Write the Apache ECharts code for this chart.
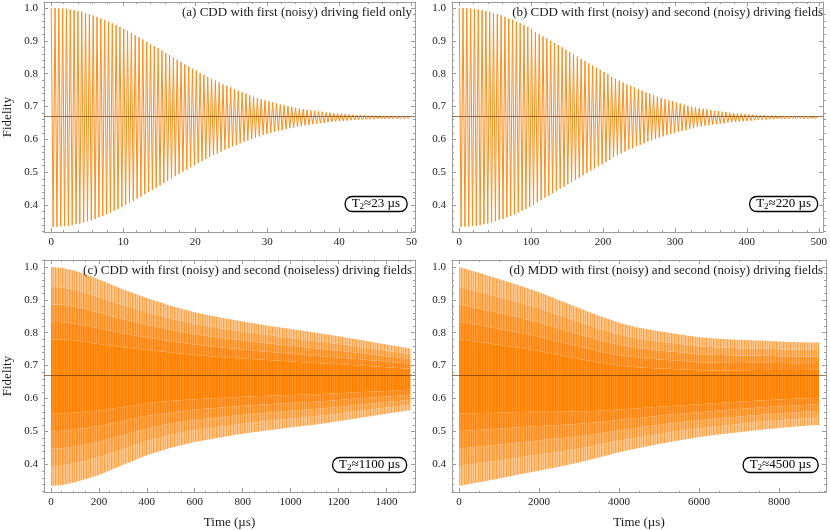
<!DOCTYPE html>
<html><head><meta charset="utf-8">
<script src="https://cdn.jsdelivr.net/npm/echarts@6/dist/echarts.min.js"></script>
<style>html,body{margin:0;padding:0;background:#fff}#c{width:830px;height:530px}</style>
</head><body><div id="c"></div>
<script>
// ---------------- DATA ----------------
// (a) successive peak / trough values of the fidelity, one every half period
const halfPeriodA = 0.265; // µs
const fidelityA = [
1.000,0.333,1.000,0.334,0.999,0.335,0.998,0.336,0.997,0.337,
0.995,0.339,0.993,0.342,0.990,0.344,0.988,0.347,0.984,0.351,
0.981,0.354,0.977,0.358,0.973,0.363,0.968,0.367,0.964,0.372,
0.958,0.377,0.953,0.383,0.948,0.388,0.942,0.394,0.936,0.400,
0.930,0.407,0.924,0.413,0.917,0.420,0.911,0.426,0.904,0.433,
0.897,0.440,0.890,0.446,0.883,0.453,0.877,0.460,0.870,0.467,
0.863,0.474,0.856,0.481,0.849,0.488,0.842,0.495,0.835,0.502,
0.828,0.508,0.822,0.515,0.815,0.521,0.809,0.528,0.802,0.534,
0.796,0.540,0.790,0.546,0.784,0.552,0.779,0.557,0.773,0.563,
0.767,0.569,0.763,0.573,0.758,0.579,0.753,0.583,0.748,0.588,
0.743,0.593,0.739,0.597,0.734,0.601,0.730,0.605,0.726,0.609,
0.722,0.613,0.719,0.616,0.716,0.619,0.712,0.623,0.709,0.626,
0.706,0.628,0.704,0.631,0.701,0.634,0.699,0.636,0.696,0.638,
0.694,0.640,0.692,0.642,0.690,0.644,0.688,0.646,0.687,0.647,
0.685,0.649,0.684,0.650,0.682,0.652,0.681,0.653,0.680,0.654,
0.679,0.655,0.678,0.656,0.677,0.657,0.676,0.658,0.675,0.659,
0.674,0.659,0.674,0.660,0.673,0.661,0.672,0.661,0.672,0.661,
0.672,0.662,0.672,0.662,0.671,0.662,0.671,0.662,0.671,0.662,
0.671,0.662,0.671,0.662,0.671,0.663,0.671,0.663,0.671
];
// (b)
const halfPeriodB = 2.65; // µs
const fidelityB = [
1.000,0.333,1.000,0.334,0.999,0.335,0.998,0.336,0.997,0.337,
0.995,0.339,0.993,0.342,0.990,0.344,0.988,0.347,0.984,0.351,
0.981,0.354,0.977,0.358,0.973,0.363,0.968,0.367,0.964,0.372,
0.958,0.377,0.953,0.383,0.948,0.388,0.942,0.394,0.936,0.400,
0.926,0.409,0.920,0.416,0.913,0.422,0.907,0.429,0.900,0.436,
0.893,0.443,0.887,0.450,0.880,0.456,0.873,0.463,0.866,0.470,
0.859,0.477,0.852,0.484,0.845,0.491,0.838,0.498,0.831,0.505,
0.825,0.511,0.818,0.518,0.812,0.524,0.805,0.531,0.799,0.537,
0.790,0.546,0.784,0.552,0.779,0.557,0.773,0.563,0.767,0.569,
0.763,0.573,0.758,0.579,0.753,0.583,0.748,0.588,0.743,0.593,
0.739,0.597,0.734,0.601,0.730,0.605,0.726,0.609,0.722,0.613,
0.719,0.616,0.716,0.619,0.712,0.623,0.709,0.626,0.706,0.628,
0.702,0.632,0.699,0.634,0.697,0.637,0.695,0.639,0.693,0.641,
0.691,0.643,0.689,0.645,0.687,0.646,0.686,0.648,0.684,0.649,
0.683,0.651,0.681,0.652,0.680,0.653,0.679,0.654,0.678,0.655,
0.677,0.656,0.676,0.657,0.675,0.658,0.674,0.659,0.673,0.660,
0.673,0.660,0.672,0.661,0.672,0.661,0.672,0.662,0.671,0.662,
0.671,0.662,0.671,0.662,0.670,0.663,0.670,0.662,0.671,0.663,
0.670,0.662,0.671,0.663,0.670,0.663,0.671,0.662,0.670
];
// (c) envelope of the densely oscillating fidelity
const timeC  = [0,50,100,150,200,300,400,500,600,700,800,900,1000,1100,1200,1300,1400,1500];
const upperC = [1.000,0.997,0.988,0.976,0.962,0.932,0.905,0.882,0.862,0.847,0.834,0.822,0.811,0.800,0.789,0.777,0.764,0.752];
const lowerC = [0.333,0.336,0.345,0.355,0.367,0.397,0.427,0.450,0.467,0.480,0.492,0.502,0.511,0.520,0.530,0.542,0.553,0.564];
// (d)
const timeD  = [0,500,1000,1500,2000,2500,3000,3500,4000,4500,5000,5500,6000,6500,7000,7500,8000,8500,9000];
const upperD = [1.000,0.982,0.963,0.944,0.923,0.899,0.875,0.851,0.830,0.815,0.804,0.795,0.786,0.781,0.778,0.776,0.773,0.771,0.770];
const lowerD = [0.333,0.345,0.356,0.368,0.380,0.392,0.405,0.420,0.436,0.449,0.461,0.472,0.482,0.490,0.497,0.504,0.510,0.515,0.519];

const meanFidelity = 0.6667;
const panelTitles = [
  '(a) CDD with first (noisy) driving field only',
  '(b) CDD with first (noisy) and second (noisy) driving fields',
  '(c) CDD with first (noisy) and second (noiseless) driving fields',
  '(d) MDD with first (noisy) and second (noisy) driving fields'
];
const t2Values = ['23', '220', '1100', '4500'];
const xTicksA = [0,10,20,30,40,50];
const xTicksB = [0,100,200,300,400,500];
const xTicksC = [0,200,400,600,800,1000,1200,1400];
const xTicksD = [0,2000,4000,6000,8000];
const yTicks  = [0.4,0.5,0.6,0.7,0.8,0.9,1.0];
const yLabel = 'Fidelity';
const xLabel = 'Time (µs)';

// ---------------- LAYOUT / STYLE ----------------
const serif = "'Liberation Serif','DejaVu Serif',serif";
const frameColor = '#9c9c9c';
const textColor = '#1a1a1a';
const orange = '#ff8c1a';
const meanLineColor = 'rgba(100,50,10,0.65)';

const panels = [
  {left:42,  top:2,   width:373, height:230, xMin:-1,   xMax:50.5, xTicks:xTicksA, xMinor:2,   yMin:0.318, yMax:1.018, yName:true,  xName:false},
  {left:452, top:2,   width:374, height:230, xMin:-10,  xMax:506,  xTicks:xTicksB, xMinor:20,  yMin:0.318, yMax:1.018, yName:false, xName:false},
  {left:42,  top:260, width:373, height:233, xMin:-29,  xMax:1519, xTicks:xTicksC, xMinor:50,  yMin:0.315, yMax:1.021, yName:true,  xName:true},
  {left:452, top:260, width:374, height:233, xMin:-175, xMax:9175, xTicks:xTicksD, xMinor:500, yMin:0.315, yMax:1.021, yName:false, xName:true}
];

function minorList(min, max, step, majors) {
  const out = [];
  const start = Math.ceil(min / step);
  for (let k = start; k * step <= max + 1e-9; k++) {
    const v = +(k * step).toFixed(6);
    if (!majors.some(m => Math.abs(m - v) < step * 1e-3)) out.push(v);
  }
  return out;
}

// striped fill pattern (mimics unresolved oscillation streaks)
function stripePattern(cols) {
  const cv = document.createElement('canvas');
  cv.width = cols.length; cv.height = 2;
  const ctx = cv.getContext('2d');
  cols.forEach((c, i) => { ctx.fillStyle = c; ctx.fillRect(i, 0, 1, 2); });
  return {image: cv, repeat: 'repeat'};
}

const grids = [], xAxes = [], yAxes = [], titles = [], series = [];

panels.forEach((p, pi) => {
  const box = {left:p.left, top:p.top, width:p.width, height:p.height};
  grids.push(Object.assign({}, box));   // main grid 2*pi
  grids.push(Object.assign({}, box));   // minor-tick grid 2*pi+1
  const gMain = 2 * pi, gMinor = 2 * pi + 1;
  const xMinorTicks = minorList(p.xMin, p.xMax, p.xMinor, p.xTicks);
  const yMinorTicks = minorList(p.yMin, p.yMax, 0.02, yTicks);
  const lineSty = {color: frameColor, width: 1};

  function xAx(g, pos, ticks, len, labels, showLine, name) {
    const a = {
      gridIndex: g, type: 'value', position: pos, min: p.xMin, max: p.xMax,
      splitLine: {show: false},
      axisLine: {show: showLine, onZero: false, lineStyle: lineSty},
      axisTick: {show: true, inside: true, length: len, lineStyle: lineSty, customValues: ticks},
      axisLabel: labels ? {show: true, customValues: ticks, margin: 5, color: textColor,
                           fontFamily: serif, fontSize: 11, formatter: v => String(v)} : {show: false},
      silent: true
    };
    if (name) {
      a.name = xLabel; a.nameLocation = 'middle'; a.nameGap = 24;
      a.nameTextStyle = {fontFamily: serif, fontSize: 13, color: textColor};
    }
    return a;
  }
  function yAx(g, pos, ticks, len, labels, showLine, name) {
    const a = {
      gridIndex: g, type: 'value', position: pos, min: p.yMin, max: p.yMax,
      splitLine: {show: false},
      axisLine: {show: showLine, onZero: false, lineStyle: lineSty},
      axisTick: {show: true, inside: true, length: len, lineStyle: lineSty, customValues: ticks},
      axisLabel: labels ? {show: true, customValues: ticks, margin: 6, color: textColor,
                           fontFamily: serif, fontSize: 11, formatter: v => v.toFixed(1)} : {show: false},
      silent: true
    };
    if (name) {
      a.name = yLabel; a.nameLocation = 'middle'; a.nameGap = 30;
      a.nameTextStyle = {fontFamily: serif, fontSize: 13, color: textColor};
    }
    return a;
  }
  xAxes.push(xAx(gMain, 'bottom', p.xTicks, 4, true, true, p.xName));
  xAxes.push(xAx(gMain, 'top', p.xTicks, 4, false, true, false));
  xAxes.push(xAx(gMinor, 'bottom', xMinorTicks, 2, false, false, false));
  xAxes.push(xAx(gMinor, 'top', xMinorTicks, 2, false, false, false));
  yAxes.push(yAx(gMain, 'left', yTicks, 4, true, true, p.yName));
  yAxes.push(yAx(gMain, 'right', yTicks, 4, false, true, false));
  yAxes.push(yAx(gMinor, 'left', yMinorTicks, 2, false, false, false));
  yAxes.push(yAx(gMinor, 'right', yMinorTicks, 2, false, false, false));

  const rightGap = 830 - (p.left + p.width);
  titles.push({
    text: panelTitles[pi], right: rightGap + 3, top: p.top + 4, padding: 0,
    textStyle: {fontFamily: serif, fontSize: 13, fontWeight: 'normal', color: textColor}
  });
  titles.push({
    text: '{t|T}{s|2}{t|≈' + t2Values[pi] + ' µs}',
    right: rightGap + 8, top: p.top + p.height - 37,
    padding: [1, 7, 1, 7], borderColor: '#000', borderWidth: 1.3, borderRadius: 7,
    backgroundColor: '#fff',
    textStyle: {fontWeight: 'normal', rich: {
      t: {fontFamily: serif, fontSize: 13, fontWeight: 'normal', color: '#000'},
      s: {fontFamily: serif, fontSize: 9, fontWeight: 'normal', color: '#000', padding: [6, 0, 0, 0]}
    }}
  });
});

const markMean = {
  silent: true, symbol: ['none', 'none'], label: {show: false},
  lineStyle: {color: meanLineColor, width: 1, type: 'solid'},
  data: [{yAxis: meanFidelity}], animation: false
};

// (a) and (b): resolved oscillations
[[fidelityA, halfPeriodA, 0], [fidelityB, halfPeriodB, 1]].forEach(([vals, hp, pi]) => {
  series.push({
    type: 'line', xAxisIndex: 4 * pi, yAxisIndex: 4 * pi,
    data: vals.map((v, i) => [i * hp, v]),
    symbol: 'none', showSymbol: false, silent: true, animation: false,
    lineStyle: {color: orange, width: 1}, z: 2,
    markLine: markMean
  });
});

// (c) and (d): dense oscillations shown as a filled band between the envelopes
const fill1 = stripePattern(['#ffbf80', '#ffcb95', '#ffa64c', '#ffc384', '#ffb063', '#ffcc98', '#ffa142']);
const fill2 = stripePattern(['#ffac58', '#ffb86e', '#ff9a35', '#ffb263', '#ffa146', '#ffbc76', '#ff962e']);
const fill3 = stripePattern(['#ff9c39', '#ffa54b', '#ff8d1c', '#ffa245', '#ff9428', '#ffaa55', '#ff8b18']);
const fill4 = stripePattern(['#ff9025', '#ff9832', '#ff8510', '#ff952d', '#ff8a17', '#ff9c3a', '#ff840c']);
const fill5 = stripePattern(['#ff8a0e', '#ff8f18', '#ff8000', '#ff8c14', '#ff8405', '#ff921f', '#ff8000']);
const bandLayers = [
  {f: 0.09, fill: fill1}, {f: 0.08, fill: fill2}, {f: 0.08, fill: fill3}, {f: 0.08, fill: fill4},
  {f: 0.34, fill: fill5},
  {f: 0.08, fill: fill4}, {f: 0.08, fill: fill3}, {f: 0.08, fill: fill2}, {f: 0.09, fill: fill1}
];
[[timeC, upperC, lowerC, 2], [timeD, upperD, lowerD, 3]].forEach(([ts, up, lo, pi]) => {
  const rows = ts.map((t, i) => [t, up[i], lo[i]]);
  series.push({
    type: 'custom', xAxisIndex: 4 * pi, yAxisIndex: 4 * pi,
    data: rows, encode: {x: 0, y: [1, 2]}, silent: true, animation: false,
    clip: true,
    renderItem: function (params, api) {
      if (params.dataIndex !== 0) return null;
      const children = [];
      let cum = 0;
      bandLayers.forEach(L => {
        const a = cum, b = cum + L.f;
        cum = b;
        const top = rows.map(r => api.coord([r[0], r[2] + (r[1] - r[2]) * b]));
        const bot = rows.map(r => api.coord([r[0], r[2] + (r[1] - r[2]) * a])).reverse();
        children.push({
          type: 'polygon', shape: {points: top.concat(bot)},
          style: {fill: L.fill}
        });
      });
      return {type: 'group', children: children};
    },
    markLine: markMean,
    z: 2
  });
});

const chart = echarts.init(document.getElementById('c'), null, {renderer: 'canvas'});
chart.setOption({
  animation: false,
  backgroundColor: '#fff',
  title: titles,
  grid: grids,
  xAxis: xAxes,
  yAxis: yAxes,
  series: series
});
</script>
</body></html>
